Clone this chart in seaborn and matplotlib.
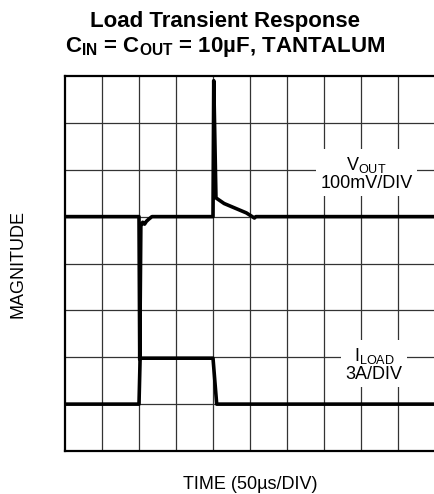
import numpy as np
import pandas as pd
import matplotlib
matplotlib.use("Agg")
import matplotlib.pyplot as plt
import seaborn as sns

# ── data (scope divisions) ────────────────────────────────
vout_x = [0, 2.0, 2.02, 2.05, 2.1, 2.15, 2.2, 2.27, 2.35, 4.0, 4.02, 4.08, 4.3, 4.6, 4.9, 5.12, 5.16, 10]
vout_y = [5.0, 5.0, 1.95, 4.8, 4.88, 4.84, 4.9, 4.95, 5.0, 5.0, 7.9, 5.4, 5.28, 5.18, 5.08, 4.97, 5.0, 5.0]
iload_x = [0, 2.0, 2.03, 4.0, 4.1, 10]
iload_y = [1.0, 1.0, 1.98, 1.98, 1.0, 1.0]

x_divs = 10
y_divs = 8

df = pd.concat([
    pd.DataFrame({"t": vout_x, "v": vout_y, "trace": "VOUT"}),
    pd.DataFrame({"t": iload_x, "v": iload_y, "trace": "ILOAD"}),
])

# ── style ─────────────────────────────────────────────────
sns.set_theme(style="white")
plt.rcParams["font.family"] = ["Liberation Sans", "DejaVu Sans"]
plt.rcParams["text.color"] = "black"
plt.rcParams["axes.labelcolor"] = "black"
plt.rcParams["mathtext.fontset"] = "custom"
plt.rcParams["mathtext.rm"] = "Liberation Sans"
plt.rcParams["mathtext.bf"] = "Liberation Sans:bold"
plt.rcParams["mathtext.it"] = "Liberation Sans:italic"

fig = plt.figure(figsize=(4.35, 4.94), dpi=100)
ax = fig.add_axes([65 / 435, 43 / 494, 370 / 435, 375 / 494])

for name, grp in df.groupby("trace", sort=False):
    sns.lineplot(data=grp, x="t", y="v", ax=ax, color="black", linewidth=2.6,
                 sort=False, estimator=None, legend=False, zorder=5)

ax.set_xlim(0, x_divs)
ax.set_ylim(0, y_divs)
ax.set_xticks(np.arange(1, x_divs))
ax.set_yticks(np.arange(1, y_divs))
ax.tick_params(length=0, labelbottom=False, labelleft=False)
ax.grid(True, color="#333333", linewidth=0.9, zorder=1)
ax.set_axisbelow(True)
for side in ["top", "left", "bottom"]:
    ax.spines[side].set_color("black")
    ax.spines[side].set_linewidth(1.6)
ax.spines["right"].set_visible(False)

ax.set_xlabel("TIME (50µs/DIV)", fontsize=13, labelpad=18)
ax.set_ylabel("MAGNITUDE", fontsize=13, labelpad=28)

box = dict(facecolor="white", edgecolor="none", boxstyle="square,pad=0.25")
ax.text(8.15, 5.93, "V$_{\\mathrm{OUT}}$\n100mV/DIV", fontsize=13, ha="center",
        va="center", linespacing=1.0, bbox=box, zorder=3)
ax.text(8.35, 1.85, "I$_{\\mathrm{LOAD}}$\n3A/DIV", fontsize=13, ha="center",
        va="center", linespacing=1.0, bbox=box, zorder=3)

fig.text(225 / 435, 1 - 22 / 494, "Load Transient Response", fontsize=16,
         fontweight="bold", ha="center", va="center")
fig.text(225 / 435, 1 - 47 / 494,
         "C$_{\\mathbf{IN}}$ = C$_{\\mathbf{OUT}}$ = 10µF, TANTALUM",
         fontsize=16, fontweight="bold", ha="center", va="center")

fig.savefig("out.png", dpi=100)
